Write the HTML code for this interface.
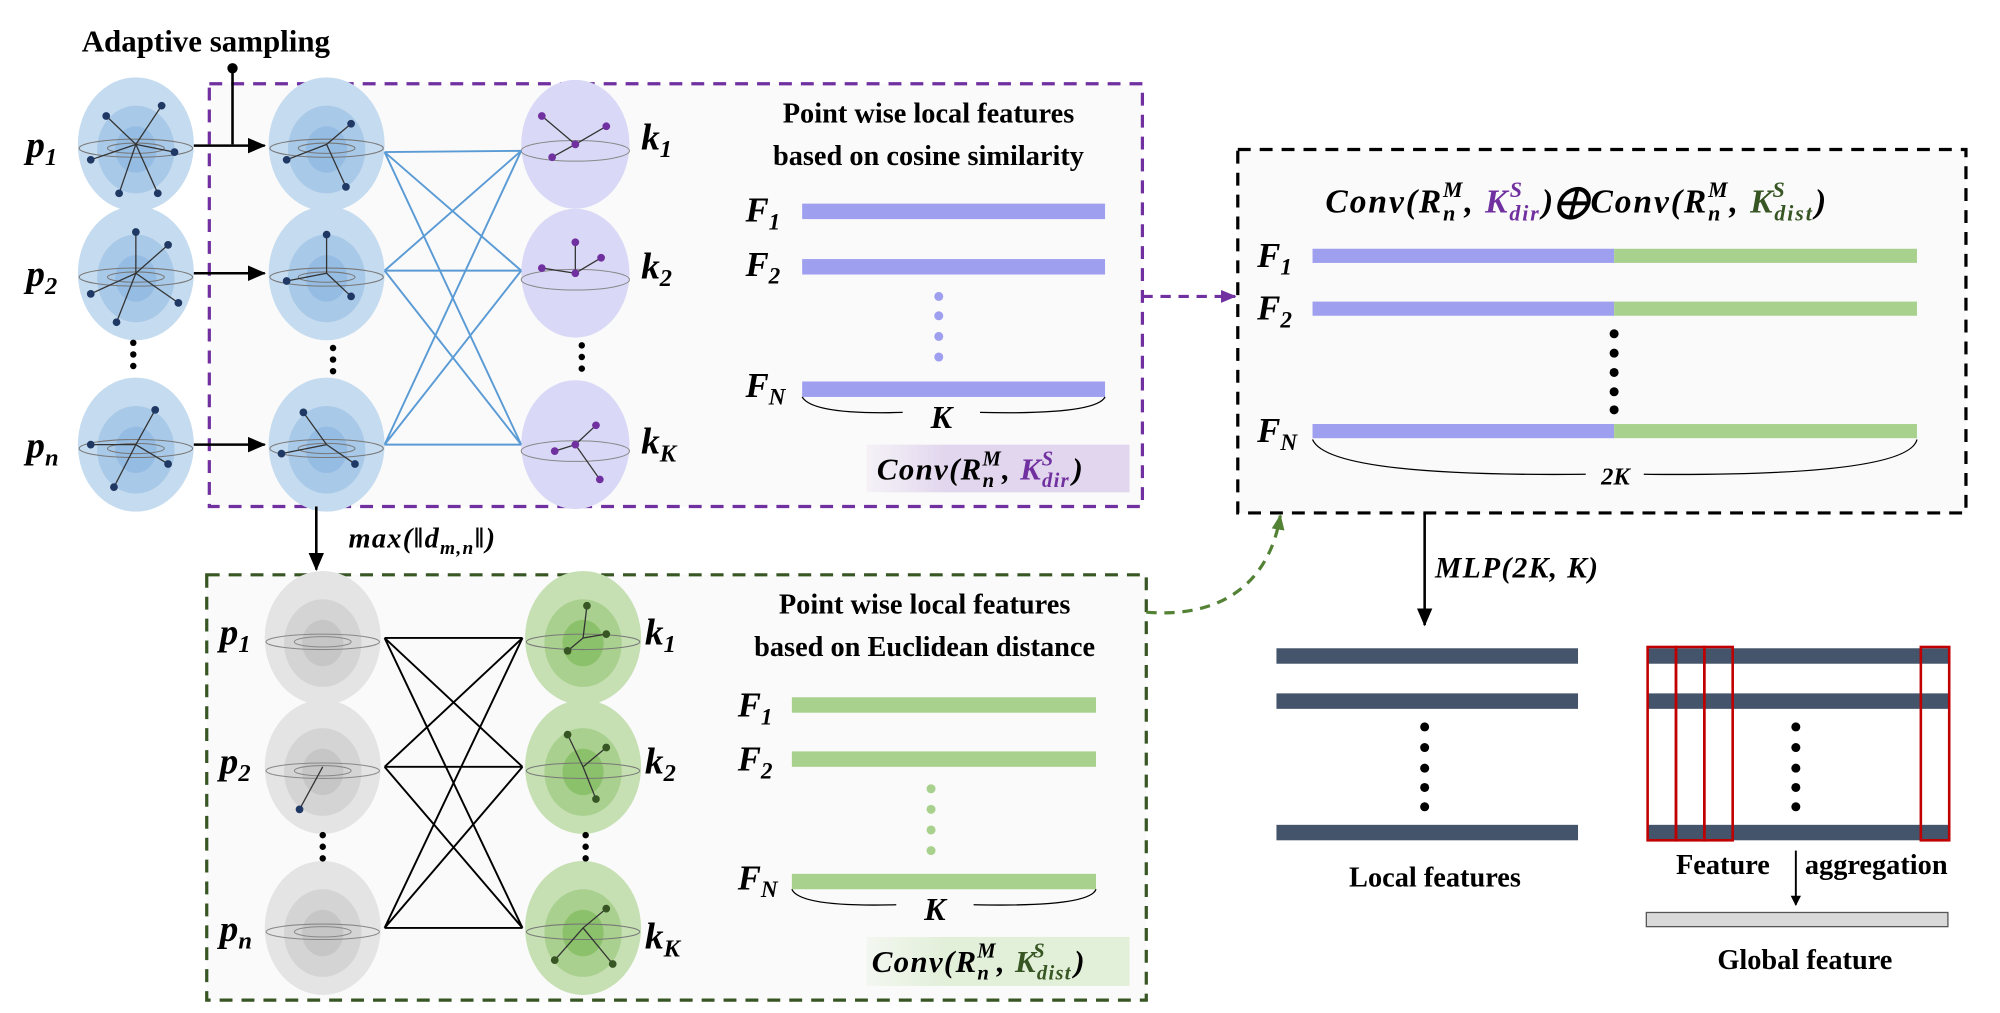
<!DOCTYPE html>
<html><head><meta charset="utf-8"><style>
html,body{margin:0;padding:0;background:#fff;}
svg{display:block}
text{font-family:"Liberation Serif",serif;font-weight:bold;}
.m{font-style:italic}
</style></head><body>
<svg width="2000" height="1013" viewBox="0 0 1551 786" xmlns="http://www.w3.org/2000/svg">
<defs>
<marker id="ab" markerWidth="8" markerHeight="8" refX="7" refY="4" orient="auto" markerUnits="userSpaceOnUse"><path d="M0,0 L8,4 L0,8z" fill="#000"/></marker>
<marker id="ap" markerWidth="12" markerHeight="10" refX="11" refY="5" orient="auto" markerUnits="userSpaceOnUse"><path d="M0,0 L12,5 L0,10z" fill="#7030a0"/></marker>
<marker id="ag" markerWidth="12" markerHeight="10" refX="11" refY="5" orient="auto" markerUnits="userSpaceOnUse"><path d="M0,0 L12,5 L0,10z" fill="#548235"/></marker>
<marker id="ak" markerWidth="14" markerHeight="12" refX="13" refY="6" orient="auto" markerUnits="userSpaceOnUse"><path d="M0,0 L14,6 L0,12z" fill="#000"/></marker>
<linearGradient id="gp" x1="0" x2="1"><stop offset="0" stop-color="#e6dcef" stop-opacity="0.3"/><stop offset="0.3" stop-color="#e2d6ee"/><stop offset="1" stop-color="#e2d6ee"/></linearGradient>
<linearGradient id="gg" x1="0" x2="1"><stop offset="0" stop-color="#e2efd9" stop-opacity="0.3"/><stop offset="0.3" stop-color="#e2efd9"/><stop offset="1" stop-color="#e2efd9"/></linearGradient>
<g id="sb"><ellipse cx="0" cy="0" rx="45" ry="52" fill="#c5dbef"/><ellipse cx="0" cy="4" rx="30" ry="34" fill="#a9c9e8"/><ellipse cx="0" cy="4" rx="16" ry="18" fill="#95bce3"/><ellipse cx="0" cy="3" rx="44" ry="7" fill="none" stroke="#777" stroke-width="0.8"/><ellipse cx="0" cy="3" rx="22" ry="4" fill="none" stroke="#777" stroke-width="0.8"/></g>
<g id="sg"><ellipse cx="0" cy="0" rx="45" ry="52" fill="#e4e4e4"/><ellipse cx="0" cy="4" rx="30" ry="34" fill="#d4d4d4"/><ellipse cx="0" cy="4" rx="16" ry="18" fill="#c6c6c6"/><ellipse cx="0" cy="3" rx="44" ry="6" fill="none" stroke="#888" stroke-width="0.8"/><ellipse cx="0" cy="3" rx="22" ry="4" fill="none" stroke="#888" stroke-width="0.8"/></g>
<g id="sgr"><ellipse cx="0" cy="0" rx="45" ry="52" fill="#c6e0b4"/><ellipse cx="0" cy="4" rx="30" ry="34" fill="#a9d08e"/><ellipse cx="0" cy="4" rx="16" ry="18" fill="#8cc16b"/><ellipse cx="0" cy="3" rx="44" ry="6" fill="none" stroke="#777" stroke-width="0.8"/></g>
<g id="sp"><ellipse cx="0" cy="0" rx="42" ry="50" fill="#d9d9f7"/><ellipse cx="0" cy="5" rx="42" ry="8" fill="none" stroke="#888" stroke-width="0.8"/></g>
</defs>

<text x="63" y="40" font-size="24">Adaptive sampling</text>
<rect x="162" y="65" width="724" height="328" fill="#fafafa" stroke="#7030a0" stroke-width="2.5" stroke-dasharray="10,7"/>
<rect x="160" y="446" width="729" height="330" fill="#fafafa" stroke="#375623" stroke-width="2.5" stroke-dasharray="10,7"/>
<rect x="960" y="116" width="565" height="282" fill="#fafafa" stroke="#000" stroke-width="2.5" stroke-dasharray="10,7"/>

<g>
<use href="#sb" x="105" y="112"/><use href="#sb" x="105" y="212"/><use href="#sb" x="105" y="345"/>
<use href="#sb" x="253" y="112"/><use href="#sb" x="253" y="212"/><use href="#sb" x="253" y="345"/>
<use href="#sp" x="446" y="112"/><use href="#sp" x="446" y="212"/><use href="#sp" x="446" y="345"/>
</g>
<g stroke="#333" stroke-width="1">
<path d="M105,112 L82,90 M105,112 L125,82 M105,112 L70,124 M105,112 L92,150 M105,112 L122,150 M105,112 L135,118 M105,212 L105,180 M105,212 L70,228 M105,212 L130,190 M105,212 L90,250 M105,212 L138,235 M105,345 L70,345 M105,345 L120,318 M105,345 L88,378 M105,345 L130,360"/>
<path d="M253,112 L272,96 M253,112 L222,124 M253,112 L268,145 M253,212 L253,182 M253,212 L222,218 M253,212 L272,230 M253,345 L235,320 M253,345 L218,352 M253,345 L275,360"/>
<path d="M446,112 L420,90 M446,112 L470,98 M446,112 L428,122 M446,212 L446,188 M446,212 L420,208 M446,212 L466,200 M446,345 L430,350 M446,345 L462,330 M446,345 L465,372"/>
</g>
<g fill="#1f3864">
<circle cx="82" cy="90" r="3"/><circle cx="125" cy="82" r="3"/><circle cx="70" cy="124" r="3"/><circle cx="92" cy="150" r="3"/><circle cx="122" cy="150" r="3"/><circle cx="135" cy="118" r="3"/>
<circle cx="105" cy="180" r="3"/><circle cx="70" cy="228" r="3"/><circle cx="130" cy="190" r="3"/><circle cx="90" cy="250" r="3"/><circle cx="138" cy="235" r="3"/>
<circle cx="70" cy="345" r="3"/><circle cx="120" cy="318" r="3"/><circle cx="88" cy="378" r="3"/><circle cx="130" cy="360" r="3"/>
<circle cx="272" cy="96" r="3"/><circle cx="222" cy="124" r="3"/><circle cx="268" cy="145" r="3"/><circle cx="253" cy="182" r="3"/><circle cx="222" cy="218" r="3"/><circle cx="272" cy="230" r="3"/><circle cx="235" cy="320" r="3"/><circle cx="218" cy="352" r="3"/><circle cx="275" cy="360" r="3"/>
</g>
<g fill="#7030a0">
<circle cx="420" cy="90" r="3"/><circle cx="470" cy="98" r="3"/><circle cx="428" cy="122" r="3"/><circle cx="446" cy="112" r="3"/><circle cx="446" cy="188" r="3"/><circle cx="420" cy="208" r="3"/><circle cx="466" cy="200" r="3"/><circle cx="446" cy="212" r="3"/><circle cx="430" cy="350" r="3"/><circle cx="462" cy="330" r="3"/><circle cx="465" cy="372" r="3"/><circle cx="446" cy="345" r="3"/>
</g>
<g stroke="#5b9bd5" stroke-width="1.5" fill="none">
<path d="M298,118 L404,117 M298,118 L404,210 M298,118 L404,345 M298,210 L404,117 M298,210 L404,210 M298,210 L404,345 M298,345 L404,117 M298,345 L404,210 M298,345 L404,345"/>
</g>
<g font-size="29" class="m">
<text x="20" y="122" class="m">p<tspan font-size="19" dy="6">1</tspan></text>
<text x="20" y="222" class="m">p<tspan font-size="19" dy="6">2</tspan></text>
<text x="20" y="355" class="m">p<tspan font-size="19" dy="6">n</tspan></text>
<text x="497" y="116" class="m">k<tspan font-size="19" dy="6">1</tspan></text>
<text x="497" y="216" class="m">k<tspan font-size="19" dy="6">2</tspan></text>
<text x="497" y="352" class="m">k<tspan font-size="19" dy="6">K</tspan></text>
</g>
<g fill="#000"><circle cx="103" cy="266" r="2.5"/><circle cx="103" cy="275" r="2.5"/><circle cx="103" cy="284" r="2.5"/><circle cx="258" cy="270" r="2.5"/><circle cx="258" cy="279" r="2.5"/><circle cx="258" cy="288" r="2.5"/><circle cx="451" cy="268" r="2.5"/><circle cx="451" cy="277" r="2.5"/><circle cx="451" cy="286" r="2.5"/></g>
<g stroke="#000" stroke-width="2" fill="none">
<path d="M150,113 L205,113" marker-end="url(#ak)"/>
<path d="M150,212 L205,212" marker-end="url(#ak)"/>
<path d="M150,345 L205,345" marker-end="url(#ak)"/>
<path d="M180,53 L180,112"/>
<path d="M245,393 L245,442" marker-end="url(#ak)"/>
<path d="M1105,398 L1105,485" marker-end="url(#ak)"/>
</g>
<circle cx="180" cy="53" r="4" fill="#000"/>
<text x="270" y="425" font-size="22" class="m" letter-spacing="1">max(‖d<tspan font-size="15" dy="5">m,n</tspan><tspan dy="-5">‖)</tspan></text>

<text x="720" y="95" font-size="22" text-anchor="middle">Point wise local features</text>
<text x="720" y="128" font-size="22" text-anchor="middle">based on cosine similarity</text>
<g font-size="27" class="m">
<text x="578" y="172">F<tspan font-size="18" dy="6">1</tspan></text>
<text x="578" y="214">F<tspan font-size="18" dy="6">2</tspan></text>
<text x="578" y="308">F<tspan font-size="18" dy="6">N</tspan></text>
</g>
<g fill="#9f9ff0"><rect x="622" y="158" width="235" height="12"/><rect x="622" y="201" width="235" height="12"/><rect x="622" y="296" width="235" height="12"/>
<circle cx="728" cy="230" r="3.5"/><circle cx="728" cy="245" r="3.5"/><circle cx="728" cy="261" r="3.5"/><circle cx="728" cy="277" r="3.5"/></g>
<path d="M622,308 Q630,322 700,320 M760,320 Q850,322 857,308" stroke="#000" fill="none" stroke-width="1"/>
<text x="730" y="332" font-size="25" class="m" text-anchor="middle">K</text>
<rect x="672" y="345" width="204" height="37" fill="url(#gp)"/>
<text x="680" y="372" font-size="24" class="m" letter-spacing="1">Conv(R<tspan font-size="16" dy="6">n</tspan><tspan font-size="16" dx="-10" dy="-17">M</tspan><tspan dy="11">, </tspan><tspan fill="#7030a0">K<tspan font-size="16" dy="6">dir</tspan><tspan font-size="16" dx="-22" dy="-17">S</tspan></tspan><tspan dx="14" dy="11">)</tspan></text>

<use href="#sg" x="250" y="495"/><use href="#sg" x="250" y="595"/><use href="#sg" x="250" y="720"/>
<use href="#sgr" x="452" y="495"/><use href="#sgr" x="452" y="595"/><use href="#sgr" x="452" y="720"/>
<g stroke="#333" stroke-width="1">
<path d="M452,495 L455,470 M452,495 L440,505 M452,495 L470,492 M452,595 L440,570 M452,595 L470,580 M452,595 L462,620 M452,720 L430,745 M452,720 L470,705 M452,720 L475,748 M250,595 L232,628"/>
</g>
<g fill="#375623"><circle cx="455" cy="470" r="3"/><circle cx="440" cy="505" r="3"/><circle cx="470" cy="492" r="3"/><circle cx="440" cy="570" r="3"/><circle cx="470" cy="580" r="3"/><circle cx="462" cy="620" r="3"/><circle cx="430" cy="745" r="3"/><circle cx="470" cy="705" r="3"/><circle cx="475" cy="748" r="3"/><circle cx="232" cy="628" r="3" fill="#1f3864"/></g>
<g stroke="#000" stroke-width="1.5" fill="none">
<path d="M298,495 L405,495 M298,495 L405,595 M298,495 L405,720 M298,595 L405,495 M298,595 L405,595 M298,595 L405,720 M298,720 L405,495 M298,720 L405,595 M298,720 L405,720"/>
</g>
<g font-size="29" class="m">
<text x="170" y="500">p<tspan font-size="19" dy="6">1</tspan></text>
<text x="170" y="600">p<tspan font-size="19" dy="6">2</tspan></text>
<text x="170" y="730">p<tspan font-size="19" dy="6">n</tspan></text>
<text x="500" y="500">k<tspan font-size="19" dy="6">1</tspan></text>
<text x="500" y="600">k<tspan font-size="19" dy="6">2</tspan></text>
<text x="500" y="736">k<tspan font-size="19" dy="6">K</tspan></text>
</g>
<g fill="#000"><circle cx="250" cy="648" r="2.5"/><circle cx="250" cy="657" r="2.5"/><circle cx="250" cy="666" r="2.5"/><circle cx="454" cy="648" r="2.5"/><circle cx="454" cy="657" r="2.5"/><circle cx="454" cy="666" r="2.5"/></g>
<text x="717" y="476" font-size="22" text-anchor="middle">Point wise local features</text>
<text x="717" y="509" font-size="22" text-anchor="middle">based on Euclidean distance</text>
<g font-size="27" class="m">
<text x="572" y="556">F<tspan font-size="18" dy="6">1</tspan></text>
<text x="572" y="598">F<tspan font-size="18" dy="6">2</tspan></text>
<text x="572" y="690">F<tspan font-size="18" dy="6">N</tspan></text>
</g>
<g fill="#a9d18e"><rect x="614" y="541" width="236" height="12"/><rect x="614" y="583" width="236" height="12"/><rect x="614" y="678" width="236" height="12"/>
<circle cx="722" cy="612" r="3.5"/><circle cx="722" cy="628" r="3.5"/><circle cx="722" cy="644" r="3.5"/><circle cx="722" cy="660" r="3.5"/></g>
<path d="M614,690 Q620,704 695,702 M755,702 Q845,704 850,690" stroke="#000" fill="none" stroke-width="1"/>
<text x="725" y="714" font-size="25" class="m" text-anchor="middle">K</text>
<rect x="672" y="727" width="204" height="38" fill="url(#gg)"/>
<text x="676" y="754" font-size="24" class="m" letter-spacing="1">Conv(R<tspan font-size="16" dy="6">n</tspan><tspan font-size="16" dx="-10" dy="-17">M</tspan><tspan dy="11">, </tspan><tspan fill="#375623">K<tspan font-size="16" dy="6">dist</tspan><tspan font-size="16" dx="-30" dy="-17">S</tspan></tspan><tspan dx="22" dy="11">)</tspan></text>

<path d="M886,230 L958,230" stroke="#7030a0" stroke-width="2.5" stroke-dasharray="8,6" fill="none" marker-end="url(#ap)"/>
<path d="M889,475 C950,480 985,450 993,400" stroke="#548235" stroke-width="2.5" stroke-dasharray="8,6" fill="none" marker-end="url(#ag)"/>

<text x="1028" y="165" font-size="26" class="m" letter-spacing="1.5">Conv(R<tspan font-size="17" dy="6">n</tspan><tspan font-size="17" dx="-11" dy="-18">M</tspan><tspan dy="12">, </tspan><tspan fill="#7030a0">K<tspan font-size="17" dy="6">dir</tspan><tspan font-size="17" dx="-24" dy="-18">S</tspan></tspan><tspan dx="14" dy="12">)⨁Conv(R</tspan><tspan font-size="17" dy="6">n</tspan><tspan font-size="17" dx="-11" dy="-18">M</tspan><tspan dy="12">, </tspan><tspan fill="#375623">K<tspan font-size="17" dy="6">dist</tspan><tspan font-size="17" dx="-32" dy="-18">S</tspan></tspan><tspan dx="22" dy="12">)</tspan></text>
<g font-size="27" class="m">
<text x="975" y="207">F<tspan font-size="18" dy="6">1</tspan></text>
<text x="975" y="248">F<tspan font-size="18" dy="6">2</tspan></text>
<text x="975" y="343">F<tspan font-size="18" dy="6">N</tspan></text>
</g>
<g><rect x="1018" y="193" width="234" height="11" fill="#9f9ff0"/><rect x="1252" y="193" width="235" height="11" fill="#a9d18e"/>
<rect x="1018" y="234" width="234" height="11" fill="#9f9ff0"/><rect x="1252" y="234" width="235" height="11" fill="#a9d18e"/>
<rect x="1018" y="329" width="234" height="11" fill="#9f9ff0"/><rect x="1252" y="329" width="235" height="11" fill="#a9d18e"/></g>
<g fill="#000"><circle cx="1252" cy="259" r="3.5"/><circle cx="1252" cy="274" r="3.5"/><circle cx="1252" cy="289" r="3.5"/><circle cx="1252" cy="304" r="3.5"/><circle cx="1252" cy="318" r="3.5"/></g>
<path d="M1018,341 Q1030,370 1230,368 M1275,368 Q1480,370 1487,341" stroke="#000" fill="none" stroke-width="1"/>
<text x="1253" y="376" font-size="19" class="m" text-anchor="middle">2K</text>
<text x="1113" y="448" font-size="23" class="m" letter-spacing="1">MLP(2K, K)</text>

<g fill="#44546a"><rect x="990" y="503" width="234" height="12"/><rect x="990" y="538" width="234" height="12"/><rect x="990" y="640" width="234" height="12"/>
<rect x="1278" y="503" width="234" height="12"/><rect x="1278" y="538" width="234" height="12"/><rect x="1278" y="640" width="234" height="12"/></g>
<g fill="#000"><circle cx="1105" cy="564" r="3.5"/><circle cx="1105" cy="580" r="3.5"/><circle cx="1105" cy="596" r="3.5"/><circle cx="1105" cy="611" r="3.5"/><circle cx="1105" cy="626" r="3.5"/>
<circle cx="1393" cy="564" r="3.5"/><circle cx="1393" cy="580" r="3.5"/><circle cx="1393" cy="596" r="3.5"/><circle cx="1393" cy="611" r="3.5"/><circle cx="1393" cy="626" r="3.5"/></g>
<g stroke="#c00000" stroke-width="2" fill="none"><rect x="1278" y="502" width="22" height="150"/><rect x="1300" y="502" width="22" height="150"/><rect x="1322" y="502" width="22" height="150"/><rect x="1490" y="502" width="22" height="150"/></g>
<text x="1113" y="688" font-size="22" text-anchor="middle">Local features</text>
<text x="1300" y="678" font-size="22">Feature</text><text x="1400" y="678" font-size="22">aggregation</text>
<path d="M1393,660 L1393,702" stroke="#000" stroke-width="1.5" marker-end="url(#ab)"/>
<rect x="1277" y="708" width="234" height="11" fill="#d9d9d9" stroke="#555" stroke-width="1"/>
<text x="1400" y="752" font-size="22" text-anchor="middle">Global feature</text>
</svg>
</body></html>
